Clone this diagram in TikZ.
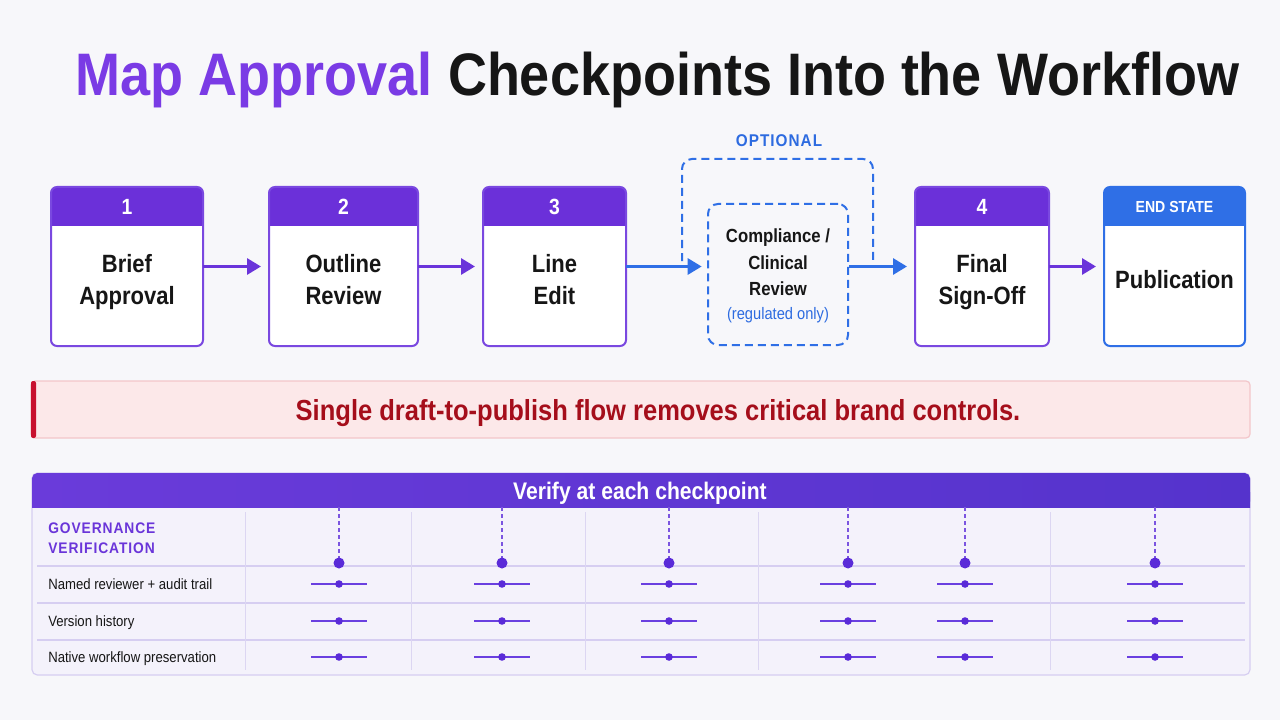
\documentclass[tikz,border=0pt]{standalone}
\usepackage{fontspec}
\setmainfont{Liberation Sans}[FakeStretch=0.88]
\newfontfamily\titlefont{Liberation Sans}[FakeStretch=0.9]
\newfontfamily\spacedfont{Liberation Sans}[FakeStretch=0.9,LetterSpace=6]
\usetikzlibrary{arrows.meta}
\definecolor{bg}{HTML}{F7F7FA}
\definecolor{pur}{HTML}{6A34DA}
\definecolor{purhdr}{HTML}{6B30D9}
\definecolor{purborder}{HTML}{7A48E0}
\definecolor{titlepur}{HTML}{7A3BE5}
\definecolor{ink}{HTML}{161616}
\definecolor{blu}{HTML}{2F6FE6}
\definecolor{bluetext}{HTML}{2D6BE0}
\definecolor{redbar}{HTML}{C8102E}
\definecolor{redtext}{HTML}{A50E1B}
\definecolor{redfill}{HTML}{FCE8E9}
\definecolor{redline}{HTML}{F3C6CA}
\definecolor{tblfill}{HTML}{F4F2FB}
\definecolor{tblline}{HTML}{D6CEF1}
\definecolor{tblvline}{HTML}{DCD6F2}
\definecolor{thdrL}{HTML}{6A3BDA}
\definecolor{thdrR}{HTML}{5533CC}
\definecolor{dotc}{HTML}{5A2BD8}
\definecolor{dotline}{HTML}{6A40E0}
\definecolor{govtext}{HTML}{6A35D9}
\begin{document}
\begin{tikzpicture}[x=0.75pt,y=-0.75pt,
  stepnode/.style={fill=white, draw=none, inner sep=0pt, outer sep=0pt, minimum height={159*0.75pt}, rounded corners=4.5pt},
  parrow/.style={draw=pur, line width=2.25pt, -{Triangle[length=10.5pt,width=12pt]}, shorten >=6pt},
  barrow/.style={draw=blu, line width=2.25pt, -{Triangle[length=10.5pt,width=12pt]}},
  numtxt/.style={text=white, font=\fontsize{16.5pt}{18pt}\selectfont\bfseries, inner sep=0pt},
  endtxt/.style={text=white, font=\fontsize{12pt}{14pt}\selectfont\bfseries, inner sep=0pt},
  bodytxt/.style={text=ink, font=\fontsize{18.75pt}{24pt}\selectfont\bfseries, align=center, inner sep=0pt},
  comptxt/.style={text=ink, font=\fontsize{14.25pt}{19.5pt}\selectfont\bfseries, inner sep=0pt, anchor=base},
  regtxt/.style={text=bluetext, font=\fontsize{12.5pt}{14pt}\selectfont, inner sep=0pt, anchor=base},
  optlbl/.style={text=bluetext, font=\fontsize{12.75pt}{14pt}\spacedfont\bfseries, inner sep=0pt, anchor=base},
  dashblue/.style={draw=blu, line width=1.5pt, dash pattern=on 6pt off 3.75pt},
  rowtxt/.style={text=ink, font=\fontsize{11.2pt}{13pt}\selectfont, inner sep=0pt, anchor=base west},
  govtxt/.style={text=govtext, font=\fontsize{11.5pt}{13pt}\spacedfont\bfseries, inner sep=0pt, anchor=base west},
]
\useasboundingbox (0,0) rectangle (1280,720);
\fill[bg] (0,0) rectangle (1280,720);

% title
\node[anchor=base, inner sep=0pt] (title) at (657.5,96)
  {\fontsize{45pt}{50pt}\titlefont\bfseries\textcolor{titlepur}{Map Approval} \textcolor{ink}{Checkpoints Into the Workflow}};

% helper coordinates
\coordinate (hb) at (0,226);
\coordinate (hm) at (0,214);
\coordinate (hc) at (0,207);

% step boxes
\foreach \n/\cx/\w/\hc/\bc in {b1/127/152/purhdr/purborder, b2/343.5/149/purhdr/purborder, b3/554.5/143/purhdr/purborder, b4/982/134/purhdr/purborder, b5/1174.5/141/blu/blu} {
  \node[stepnode, minimum width={\w*0.75pt}] (\n) at (\cx,266.5) {};
  \fill[\hc, rounded corners=4.5pt] (\n.north west) rectangle (\n.east |- hb);
  \fill[\hc] (\n.west |- hm) rectangle (\n.east |- hb);
  \draw[\bc, line width=1.5pt, rounded corners=4.5pt] (\n.north west) rectangle (\n.south east);
}

\node[numtxt] (n1) at (b1.center |- hc) {1};
\node[numtxt] (n2) at (b2.center |- hc) {2};
\node[numtxt] (n3) at (b3.center |- hc) {3};
\node[numtxt] (n4) at (b4.center |- hc) {4};
\node[endtxt] (n5) at (b5.center |- hc) {END STATE};

\node[bodytxt] (t1) at (127,282.5) {Brief\\Approval};
\node[bodytxt] (t2) at (343.5,280) {Outline\\Review};
\node[bodytxt] (t3) at (554.5,280) {Line\\Edit};
\node[bodytxt] (t4) at (982,282.5) {Final\\Sign-Off};
\node[bodytxt] (t5) at (1174.5,279.5) {Publication};

% optional step
\draw[dashblue, rounded corners=7.5pt] (682,261) -- (682,159) -- (873,159) -- (873,261);
\node[dashblue, rounded corners=7.5pt, minimum width={140*0.75pt}, minimum height={141*0.75pt}, inner sep=0pt] (opt) at (778,274.5) {};
\node[optlbl] (optl) at (779,147) {OPTIONAL};
\node[comptxt] (c1) at (778,243) {Compliance /};
\node[comptxt] (c2) at (778,269) {Clinical};
\node[comptxt] (c3) at (778,295) {Review};
\node[regtxt] (c4) at (778,319) {(regulated only)};

% connectors
\draw[parrow] (b1.east) -- (b2.west);
\draw[parrow] (b2.east) -- (b3.west);
\draw[barrow, shorten >=4pt] (b3.east) -- (b3.east -| opt.west);
\draw[barrow, shorten >=6pt] (opt.east |- b4.west) -- (b4.west);
\draw[parrow] (b4.east) -- (b5.west);

% warning banner
\fill[redfill, rounded corners=3pt] (31,381) rectangle (1250,438);
\draw[redline, line width=0.9pt, rounded corners=3pt] (31,381) rectangle (1250,438);
\fill[redbar, rounded corners=1.5pt] (31,381) rectangle (36,438);
\node[anchor=base, inner sep=0pt, text=redtext, font=\fontsize{21.75pt}{24pt}\selectfont\bfseries] (warn) at (658,420.5)
  {Single draft-to-publish flow removes critical brand controls.};

% table
\fill[tblfill, rounded corners=4pt] (32,473) rectangle (1250,675);
\draw[tblline, line width=0.9pt, rounded corners=4pt] (32,473) rectangle (1250,675);
\shade[left color=thdrL, right color=thdrR, rounded corners=4pt] (32,473) rectangle (1250,507);
\shade[left color=thdrL, right color=thdrR] (32,492) rectangle (1250,507);
\node[anchor=base, inner sep=0pt, text=white, font=\fontsize{18pt}{20pt}\selectfont\bfseries] (thdr) at (640,499) {Verify at each checkpoint};

\foreach \y in {566,603,640} \draw[tblline, line width=0.9pt] (37,\y) -- (1245,\y);
\foreach \x in {245,411,585,758,1050} \draw[tblvline, line width=0.7pt] (\x,512) -- (\x,670);

\node[govtxt] (g1) at (48,533.4) {GOVERNANCE};
\node[govtxt] (g2) at (48,553.4) {VERIFICATION};
\node[rowtxt] (r1) at (48,589) {Named reviewer + audit trail};
\node[rowtxt] (r2) at (48,626) {Version history};
\node[rowtxt] (r3) at (48,662) {Native workflow preservation};

\foreach \cx in {339,502,669,848,965,1155} {
  \draw[dotc!80, line width=0.9pt, dash pattern=on 3pt off 2.25pt] (\cx,507) -- (\cx,558);
  \fill[dotc] (\cx,563) circle[radius=5.5];
  \foreach \ry in {584,621,657} {
    \draw[dotline, line width=1.6pt] (\cx-28,\ry) -- (\cx+28,\ry);
    \fill[dotc] (\cx,\ry) circle[radius=3.8];
  }
}
\end{tikzpicture}
\end{document}
